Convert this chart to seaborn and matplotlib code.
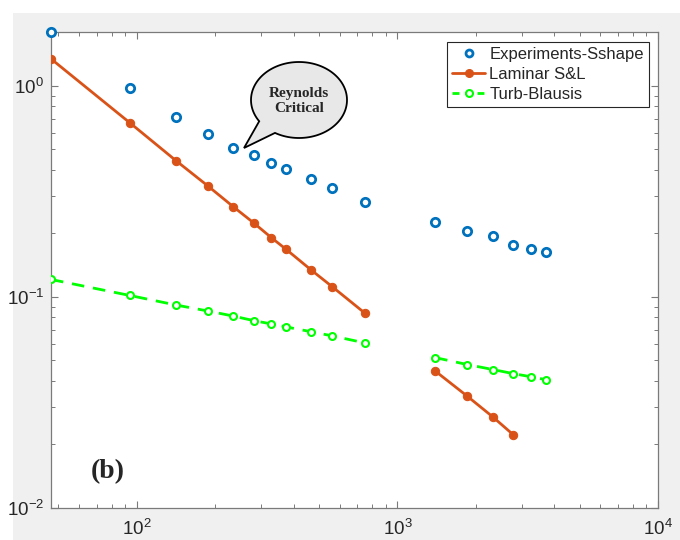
import numpy as np
import pandas as pd
import matplotlib
matplotlib.use("Agg")
import matplotlib.pyplot as plt
import seaborn as sns
from matplotlib.lines import Line2D
from matplotlib.patches import Rectangle, PathPatch
from matplotlib.path import Path

# ---------------- data ----------------
exp_re = [46.8, 94, 141, 187, 234, 281, 328, 374, 467, 561, 748,
          1395, 1857, 2324, 2787, 3242, 3724]
exp_cf = [1.80, 0.975, 0.713, 0.594, 0.508, 0.470, 0.432, 0.403, 0.361, 0.327, 0.283,
          0.227, 0.206, 0.194, 0.176, 0.169, 0.164]

lam_re_1 = [46.8, 94, 141, 187, 234, 281, 328, 374, 467, 561, 748]
lam_cf_1 = [1.343, 0.668, 0.443, 0.336, 0.268, 0.224, 0.191, 0.168, 0.134, 0.112, 0.084]
lam_re_2 = [1395, 1857, 2324, 2787]
lam_cf_2 = [0.0446, 0.0338, 0.0270, 0.0222]

turb_re_1 = [46.8, 94, 141, 187, 234, 281, 328, 374, 467, 561, 748]
turb_cf_1 = [0.121, 0.1016, 0.0916, 0.0858, 0.0812, 0.0772, 0.0745, 0.0721, 0.0684, 0.0654, 0.0606]
turb_re_2 = [1395, 1857, 2324, 2787, 3242, 3724]
turb_cf_2 = [0.0516, 0.0478, 0.0453, 0.0433, 0.0419, 0.0405]

labels = ["Experiments-Sshape", "Laminar S&L", "Turb-Blausis"]
panel_label = "(b)"
callout_text = "Reynolds\nCritical"

# ---------------- style ----------------
sns.set_style("ticks")
plt.rcParams["font.family"] = ["Liberation Sans", "DejaVu Sans"]
plt.rcParams["mathtext.fontset"] = "custom"
plt.rcParams["mathtext.rm"] = "Liberation Sans"
plt.rcParams["axes.unicode_minus"] = False

c_blue = "#0072BD"
c_orange = "#D95319"
c_green = "#00FF00"

W, H = 680, 540
fig = plt.figure(figsize=(6.8, 5.4), dpi=100)
fig.patch.set_facecolor("white")
fig.add_artist(Rectangle((13 / W, 0), 1 - 13 / W, 1 - 13 / H, transform=fig.transFigure,
                         facecolor="#f0f0f0", edgecolor="none", zorder=-10))

ax = fig.add_axes([51 / W, 1 - 508 / H, (658 - 51) / W, (508 - 32) / H])
ax.set_facecolor("white")
ax.set_xscale("log")
ax.set_yscale("log")

df_exp = pd.DataFrame({"Re": exp_re, "Cf": exp_cf})
df_lam = pd.DataFrame({"Re": lam_re_1 + lam_re_2, "Cf": lam_cf_1 + lam_cf_2,
                       "seg": [0] * len(lam_re_1) + [1] * len(lam_re_2)})
df_turb = pd.DataFrame({"Re": turb_re_1 + turb_re_2, "Cf": turb_cf_1 + turb_cf_2,
                        "seg": [0] * len(turb_re_1) + [1] * len(turb_re_2)})

sns.lineplot(data=df_lam, x="Re", y="Cf", units="seg", estimator=None, sort=False,
             color=c_orange, lw=2.0, marker="o", markersize=6, markeredgecolor=c_orange,
             markerfacecolor=c_orange, ax=ax, legend=False, zorder=3)
sns.lineplot(data=df_turb, x="Re", y="Cf", units="seg", estimator=None, sort=False,
             color=c_green, lw=2.0, linestyle=(0, (4.5, 3.2)), marker="o", markersize=5,
             markeredgecolor=c_green, markerfacecolor="white", markeredgewidth=1.5,
             ax=ax, legend=False, zorder=3)
sns.scatterplot(data=df_exp, x="Re", y="Cf", marker="o", s=36, facecolor="white",
                edgecolor=c_blue, linewidth=2.0, ax=ax, legend=False, zorder=4, clip_on=False)

ax.set_xlim(46.8, 1e4)
ax.set_ylim(0.01, 1.80)
ax.set_xlabel("")
ax.set_ylabel("")

for s in ax.spines.values():
    s.set_color("#7a7a7a")
    s.set_linewidth(0.9)
ax.tick_params(which="both", direction="in", top=True, right=True, color="#7a7a7a",
               labelcolor="#262626", labelsize=13.5)
ax.tick_params(which="major", length=5, width=0.8)
ax.tick_params(which="minor", length=3, width=0.7)
ax.tick_params(axis="x", pad=8)
ax.tick_params(axis="y", pad=5)

handles = [
    Line2D([], [], linestyle="none", marker="o", markersize=5, markerfacecolor="white",
           markeredgecolor=c_blue, markeredgewidth=2.0),
    Line2D([], [], color=c_orange, lw=2.0, marker="o", markersize=5.5,
           markerfacecolor=c_orange, markeredgecolor=c_orange),
    Line2D([], [], color=c_green, lw=2.0, linestyle=(0, (2.5, 2)), marker="o", markersize=5,
           markerfacecolor="white", markeredgecolor=c_green, markeredgewidth=1.5),
]
leg = ax.legend(handles, labels, loc="upper right", bbox_to_anchor=(0.985, 0.98),
                fontsize=12, frameon=True, fancybox=False, edgecolor="#262626",
                framealpha=1, handlelength=2.0, handletextpad=0.25, borderpad=0.3,
                labelspacing=0.3, borderaxespad=0)
leg.get_frame().set_linewidth(0.8)

# panel label
fig.text(108 / W, 1 - 472 / H, panel_label, family=["Liberation Serif", "DejaVu Serif"],
         fontweight="bold", fontsize=20, ha="center", va="center")

# callout bubble (ellipse with a tail), drawn in figure pixels
cx, cy, a, b = 299.0, 100.0, 48.0, 38.0
t = np.radians(np.linspace(240, 574, 120))
px = cx + a * np.cos(t)
py = cy - b * np.sin(t)
tip = (244.0, 148.0)
verts = list(zip(px, py)) + [tip, (px[0], py[0])]
verts = [(x / W, 1 - y / H) for x, y in verts]
codes = [Path.MOVETO] + [Path.LINETO] * (len(verts) - 2) + [Path.CLOSEPOLY]
bubble = PathPatch(Path(verts, codes), transform=fig.transFigure, facecolor="#e8e8e8",
                   edgecolor="black", lw=1.3, zorder=10)
fig.add_artist(bubble)
fig.text(cx / W, 1 - (cy + 1) / H, callout_text, family=["Liberation Serif", "DejaVu Serif"],
         fontweight="bold", fontsize=11, ha="center", va="center", linespacing=1.3,
         zorder=11)

fig.savefig("out.png", dpi=100)
